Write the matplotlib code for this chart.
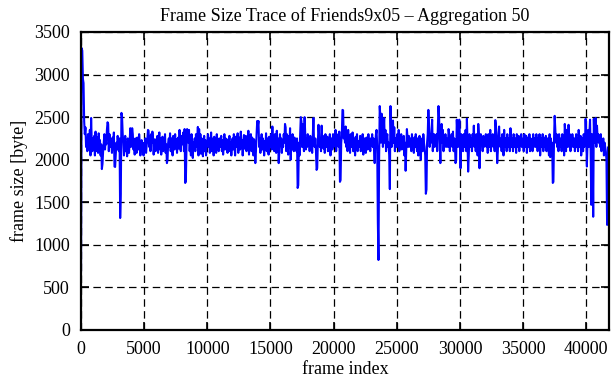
import numpy as np
import matplotlib.pyplot as plt

plt.rcParams['font.family'] = ['Liberation Serif', 'DejaVu Serif']

# aggregated frame sizes (bytes), one value per 50 frames
sizes = [
    690, 3310, 3280, 2950, 2900, 2450, 2300, 2380, 2150, 2250, 2100, 2300, 2200, 2120, 2350, 2050, 2490, 2200, 2100, 2250,
    2150, 2280, 2050, 2330, 2100, 2200, 2260, 2080, 2310, 2150, 2230, 2050, 2180, 1890, 1950, 2100, 2200, 2300, 2120, 2250,
    2180, 2350, 2440, 2420, 2100, 2300, 2250, 2150, 2200, 2080, 2260, 2140, 2320, 1920, 1915, 2050, 2200, 2120, 2280, 2180,
    2100, 2250, 1315, 1600, 2550, 2500, 2300, 2200, 2050, 2150, 2280, 2100, 2200, 2040, 2250, 2160, 2080, 2210, 2370, 2150,
    2250, 2370, 2300, 2120, 2200, 2060, 2250, 2150, 2080, 2260, 2170, 2120, 2300, 2200, 2050, 2140, 2230, 2100, 2180, 2050,
    2200, 2120, 2250, 2080, 2170, 2230, 2350, 2340, 2150, 2280, 2100, 2300, 2200, 2330, 2250, 2060, 2180, 2240, 2100, 2200,
    2150, 2280, 2080, 2200, 2320, 2120, 2250, 2060, 2180, 2270, 2100, 2220, 2150, 2300, 2080, 2180, 1960, 2000, 2200, 2250,
    2150, 2310, 2100, 2250, 2180, 2050, 2280, 2200, 2120, 2300, 2160, 2240, 2080, 2200, 2260, 2130, 2350, 2200, 2100, 2280,
    2250, 2180, 2320, 2100, 2360, 1727, 1750, 2150, 2360, 2300, 2200, 2350, 2100, 2250, 2050, 2300, 2180, 2020, 2200, 2130,
    2250, 2100, 2300, 2150, 2200, 2385, 2050, 2360, 2120, 2300, 2070, 2250, 2180, 2040, 2200, 2280, 2100, 2230, 2050, 2180,
    2200, 2300, 2150, 2250, 2080, 2200, 2320, 2100, 2180, 2250, 2050, 2270, 2150, 2200, 2080, 2300, 2170, 2230, 2100, 2250,
    2150, 2200, 2280, 2100, 2230, 2060, 2180, 2300, 2120, 2250, 2160, 2200, 2080, 2240, 2150, 2280, 2100, 2200, 2050, 2180,
    2250, 2120, 2300, 2180, 2050, 2270, 2150, 2200, 2310, 2080, 2200, 2260, 2120, 2330, 2150, 2230, 2050, 2200, 2290, 2130,
    2200, 2280, 2100, 2250, 2170, 2340, 2060, 2220, 2150, 2300, 2100, 2260, 2180, 2050, 2240, 2150, 1960, 2100, 2300, 2455,
    2400, 2455, 2150, 2250, 2080, 2200, 2300, 2120, 2250, 2180, 2050, 2220, 2150, 2310, 2100, 2250, 2180, 2060, 2270, 2150,
    2200, 2300, 2120, 2390, 2150, 2250, 2100, 2300, 2200, 2080, 2340, 2160, 2250, 1960, 2100, 2300, 2180, 2250, 2080, 2220,
    2150, 2300, 2200, 2420, 2380, 2100, 2300, 2200, 2060, 2280, 2150, 2370, 2000, 2200, 2120, 2300, 2180, 2100, 2260, 2150,
    2200, 2100, 2250, 1668, 1700, 2200, 2050, 2300, 2500, 2450, 2150, 2420, 2250, 2100, 2500, 2300, 2120, 2250, 2150, 2300,
    2200, 2250, 2100, 2280, 2150, 2230, 2080, 2300, 2490, 2200, 2150, 2250, 2100, 1880, 1900, 2200, 2410, 2300, 2150, 2250,
    2100, 2400, 2200, 2280, 2130, 2250, 2080, 2300, 2200, 2150, 2270, 2100, 2230, 2160, 2300, 2050, 2200, 2250, 2120, 2300,
    2150, 2250, 2200, 2350, 2100, 2300, 2200, 2280, 2150, 2330, 1740, 1760, 2200, 2300, 2585, 2580, 2250, 2300, 2200, 2390,
    2150, 2280, 2100, 2350, 2200, 2250, 2080, 2300, 2200, 2150, 2320, 2100, 2250, 2180, 2050, 2270, 2150, 2300, 2100, 2220,
    2200, 2150, 2280, 2100, 2250, 2180, 2300, 2060, 2200, 2250, 2150, 2080, 2260, 2200, 2120, 2300, 2180, 2230, 2100, 2250,
    2180, 2300, 2150, 2250, 2100, 1960, 2200, 2300, 2350, 2150, 1270, 822, 2000, 2630, 2500, 2200, 2540, 2450, 2150, 2300,
    2490, 2200, 2350, 2100, 2250, 2300, 2150, 2200, 2050, 1655, 2630, 2300, 2150, 2250, 2460, 2200, 2380, 2100, 2250, 2150,
    2200, 2300, 2150, 2350, 2100, 2250, 2180, 2300, 2120, 2220, 2150, 2280, 2050, 2200, 1870, 2100, 2360, 2250, 2150, 2280,
    2200, 2150, 2250, 2100, 2300, 2180, 2220, 2080, 2260, 2150, 2300, 2200, 2100, 2250, 2050, 2200, 2280, 2150, 2000, 2220,
    2250, 2100, 2300, 2200, 2150, 2050, 1600, 1650, 2200, 2300, 2585, 2400, 2150, 2300, 2200, 2350, 2470, 2100, 2250, 2300,
    2150, 2250, 2200, 2300, 2100, 2350, 2630, 2500, 2200, 1960, 2300, 2420, 2200, 2350, 2100, 2250, 2180, 2300, 2150, 2250,
    2200, 2150, 2360, 2300, 2100, 2250, 2200, 2300, 2150, 2330, 2100, 2250, 2200, 1960, 2000, 2470, 2300, 2150, 2250, 2470,
    2250, 1900, 2300, 2150, 2250, 2100, 2300, 2200, 2150, 2350, 2100, 2480, 2200, 1860, 2050, 2300, 2200, 2150, 2250, 2100,
    2300, 2200, 2400, 2150, 2250, 2100, 2300, 2200, 2050, 2420, 2300, 1900, 2150, 2300, 2200, 2250, 2100, 2280, 2150, 2250,
    2200, 2300, 2150, 2250, 2080, 2300, 2200, 2150, 2350, 2100, 2250, 2200, 2300, 2150, 2200, 2100, 2465, 2400, 2200, 1960,
    2100, 2300, 2390, 2200, 2150, 2250, 2100, 2300, 2200, 2050, 2350, 2150, 2250, 2200, 2100, 2300, 2150, 2250, 2200, 2100,
    2370, 2200, 2150, 2250, 2100, 2300, 2200, 2150, 2250, 2080, 2300, 2200, 2150, 2280, 2100, 2250, 2180, 2300, 2150, 2200,
    2250, 2100, 2300, 2150, 2200, 2280, 2080, 2250, 2200, 2150, 2300, 2100, 2250, 2180, 2220, 2100, 2300, 2150, 2250, 2200,
    2150, 2300, 2200, 2100, 2250, 2150, 2300, 2050, 2200, 2250, 2150, 2300, 2100, 2200, 2250, 2150, 2280, 2100, 2200, 2250,
    2150, 2050, 2300, 2030, 2250, 2100, 2200, 1727, 1740, 2250, 2515, 2350, 2200, 2300, 2150, 2250, 2100, 2300, 2200, 2150,
    2250, 2100, 2300, 2150, 2200, 2050, 2420, 2300, 2100, 2350, 2250, 2150, 2410, 2200, 2300, 2100, 2250, 2150, 2300, 2200,
    2150, 2250, 2100, 2200, 2300, 2150, 2250, 2100, 2350, 2200, 2150, 2280, 2050, 2200, 2250, 2100, 2300, 2150, 2200, 2480,
    2300, 1920, 2200, 2350, 2150, 2300, 2470, 2100, 1470, 2300, 2200, 1330, 2480, 2200, 2300, 2490, 2150, 2400, 2250, 2300,
    2200, 2250, 2150, 2300, 2100, 2200, 2150, 2250, 2050, 2200, 2150, 2100, 2000, 1235, 1240, 2150, 1235,
]
agg = 50
frames = np.arange(len(sizes)) * agg

xticks = [0, 5000, 10000, 15000, 20000, 25000, 30000, 35000, 40000]
yticks = [0, 500, 1000, 1500, 2000, 2500, 3000, 3500]

fig = plt.figure(figsize=(6.11, 3.80), dpi=100)
ax = fig.add_axes([0.1326, 0.1316, 0.8641, 0.7842])
ax.plot(frames, sizes, color='#0000ff', lw=1.5)

ax.set_xlim(0, frames[-1])
ax.set_ylim(0, 3500)
ax.set_xticks(xticks)
ax.set_yticks(yticks)
ax.grid(True, color='black', lw=0.9, linestyle=(0, (6, 3.5)))
ax.tick_params(direction='in', length=6, width=1.2, top=True, right=True,
               labelsize=13, pad=8)
for s in ax.spines.values():
    s.set_linewidth(1.6)

ax.set_title('Frame Size Trace of Friends9x05 \u2013 Aggregation 50', fontsize=13, pad=8)
ax.set_xlabel('frame index', fontsize=13, labelpad=2)
ax.set_ylabel('frame size [byte]', fontsize=13, labelpad=4)

fig.savefig('out.png', dpi=100)
